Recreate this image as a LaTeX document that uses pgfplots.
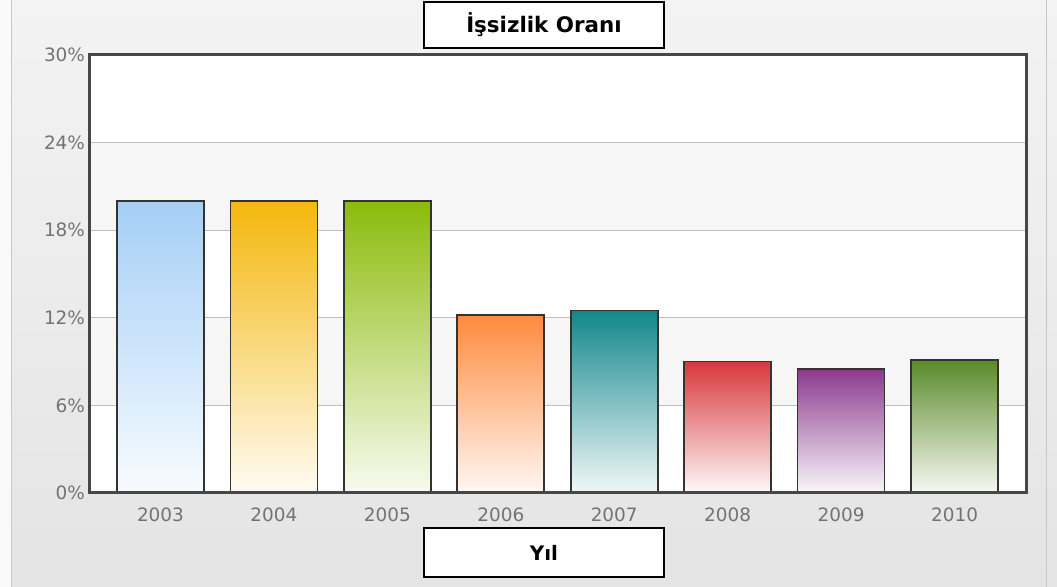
\documentclass[border=0pt]{standalone}
\usepackage{pgfplots}
\pgfplotsset{compat=1.18}
\usepackage{fontspec}
\setmainfont{DejaVu Sans}
\definecolor{ca}{HTML}{A4CFF6}
\definecolor{cb}{HTML}{F4B70C}
\definecolor{cc}{HTML}{8BBB0B}
\definecolor{cd}{HTML}{FF8A3D}
\definecolor{ce}{HTML}{12878B}
\definecolor{cf}{HTML}{D8383C}
\definecolor{cg}{HTML}{8A3A8E}
\definecolor{ch}{HTML}{5A8A2A}
\definecolor{bgtop}{HTML}{F3F3F3}
\definecolor{bgbot}{HTML}{E4E4E4}
\definecolor{band}{HTML}{F6F6F6}
\begin{document}
\begin{tikzpicture}
\useasboundingbox (0bp,0bp) rectangle (1057bp,587bp);
\shade[top color=bgtop, bottom color=bgbot] (0bp,0bp) rectangle (1057bp,587bp);
\fill[white!60!bgtop] (0bp,0bp) rectangle (11bp,587bp);
\draw[black!22, line width=1bp] (11bp,0bp) -- (11bp,587bp);
\draw[black!22, line width=1bp] (1046bp,0bp) -- (1046bp,587bp);
\fill[white] (89bp,94bp) rectangle (1026bp,532bp);
\fill[band] (89bp,181.6bp) rectangle (1026bp,269.2bp);
\fill[band] (89bp,356.8bp) rectangle (1026bp,444.4bp);
\begin{axis}[
  at={(89bp,94bp)}, anchor=south west,
  scale only axis, width=937bp, height=438bp,
  xmin=-0.63, xmax=7.63, ymin=0, ymax=30,
  ytick={0,6,12,18,24,30},
  xtick={0,1,2,3,4,5,6,7},
  xticklabels={2003,2004,2005,2006,2007,2008,2009,2010},
  yticklabel={\pgfmathprintnumber{\tick}\%},
  /pgf/number format/assume math mode=true,
  ymajorgrids,
  grid style={black!25, line width=1bp},
  axis line style={draw=none},
  major tick length=0pt,
  tick label style={font=\fontsize{18.5}{18.5}\selectfont, text=black!55},
  xticklabel style={yshift=-11bp},
  yticklabel style={xshift=-0.5bp},
  every axis plot/.append style={ybar, bar width=87bp, bar shift=0pt, draw=black!80, line width=1.7bp},
]
\addplot[top color=ca, bottom color=ca!8!white] coordinates {(0,20.0)};
\addplot[top color=cb, bottom color=cb!5!white] coordinates {(1,20.0)};
\addplot[top color=cc, bottom color=cc!6!white] coordinates {(2,20.0)};
\addplot[top color=cd, bottom color=cd!6!white] coordinates {(3,12.2)};
\addplot[top color=ce, bottom color=ce!6!white] coordinates {(4,12.5)};
\addplot[top color=cf, bottom color=cf!3!white] coordinates {(5,9.0)};
\addplot[top color=cg, bottom color=cg!4!white] coordinates {(6,8.5)};
\addplot[top color=ch, bottom color=ch!5!white] coordinates {(7,9.1)};
\end{axis}
\draw[black!72, line width=3bp] (89bp,94bp) rectangle (1026bp,532bp);
\node[draw=black, line width=1.8bp, fill=white, minimum width=240bp, minimum height=46bp, inner sep=0pt, font=\bfseries\fontsize{21.5}{21.5}\selectfont] at (544bp,562bp) {İşsizlik Oranı};
\node[draw=black, line width=1.8bp, fill=white, minimum width=240bp, minimum height=49bp, inner sep=0pt, font=\bfseries\fontsize{20}{20}\selectfont] at (544bp,34.5bp) {Yıl};
\end{tikzpicture}
\end{document}
